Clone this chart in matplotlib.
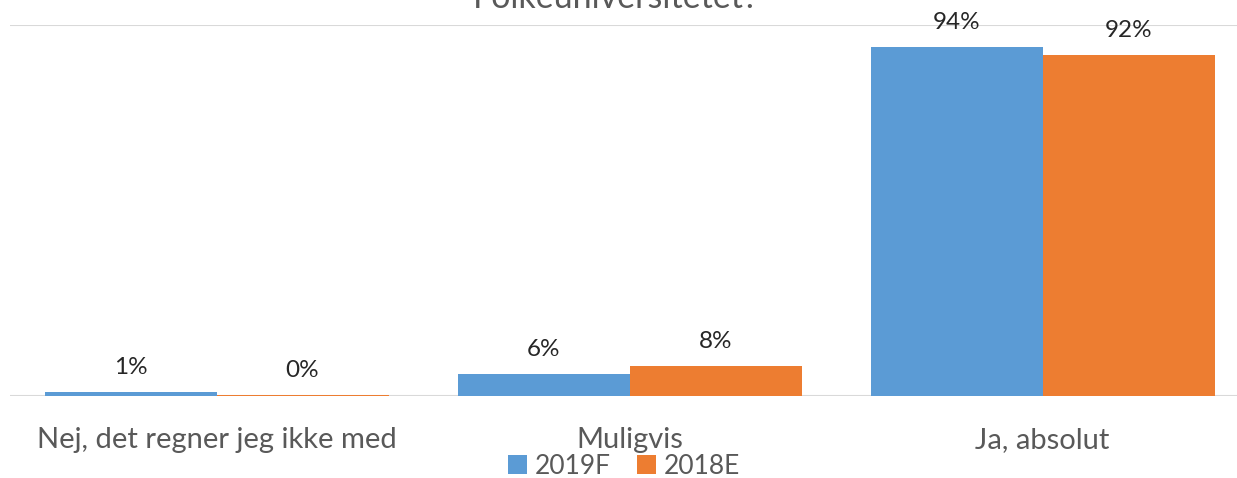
import matplotlib
matplotlib.use("Agg")
import matplotlib.pyplot as plt
import numpy as np

categories = ["Nej, det regner jeg ikke med", "Muligvis", "Ja, absolut"]
series_names = ["2019F", "2018E"]
values_2019F = [0.01, 0.06, 0.94]
values_2018E = [0.002, 0.08, 0.92]
labels_2019F = ["1%", "6%", "94%"]
labels_2018E = ["0%", "8%", "92%"]
title_text = "Folkeuniversitetet?"

colors = ["#5B9BD5", "#ED7D31"]
plt.rcParams['font.family'] = ['Lato', 'DejaVu Sans']

W, H = 1237, 478
fig = plt.figure(figsize=(W / 100, H / 100), dpi=100)
left_px, right_px, top_px, bot_px = 10, 1237, 25, 396
ax = fig.add_axes([left_px / W, 1 - bot_px / H, (right_px - left_px) / W, (bot_px - top_px) / H])

cat_w = 413.0
x = np.arange(len(categories))
bw = 172 / cat_w
b1 = ax.bar(x - bw / 2, values_2019F, bw, color=colors[0], label=series_names[0])
b2 = ax.bar(x + bw / 2, values_2018E, bw, color=colors[1], label=series_names[1])

for bars, labs in ((b1, labels_2019F), (b2, labels_2018E)):
    for r, lab in zip(bars, labs):
        ax.annotate(lab, (r.get_x() + r.get_width() / 2, r.get_height()),
                    xytext=(0, 13), textcoords="offset points",
                    ha="center", va="baseline", fontsize=17.5, color="#262626")

ax.set_xlim(-0.5, -0.5 + (right_px - left_px) / cat_w)
ax.set_ylim(0, 1.0)
ax.axhline(1.0, color="#D9D9D9", lw=1.5, zorder=0)
ax.axhline(0.0, color="#D9D9D9", lw=1.5, zorder=0)
for s in ax.spines.values():
    s.set_visible(False)
ax.set_yticks([])
ax.set_xticks(x)
ax.set_xticklabels(categories, fontsize=21, color="#595959")
ax.tick_params(axis="x", length=0, pad=22)

fig.text(616 / W, 1 - 8 / H, title_text, ha="center", va="baseline",
         fontsize=24.5, color="#595959")

leg = fig.legend(handles=[b1, b2], labels=series_names, loc="center",
                 bbox_to_anchor=(624 / W, 1 - 466 / H), ncol=2, frameon=False,
                 fontsize=19, handlelength=0.7, handleheight=0.7,
                 handletextpad=0.3, columnspacing=1.0, labelcolor="#595959")

fig.savefig("out.png", dpi=100)
